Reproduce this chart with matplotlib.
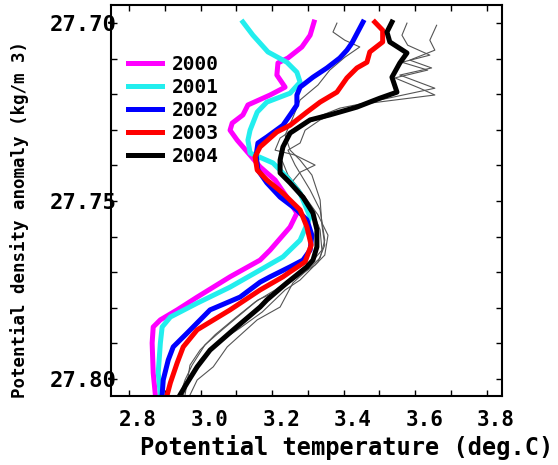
import matplotlib
matplotlib.use('Agg')
from matplotlib import pyplot as plt
import matplotlib.transforms as mtransforms

# Perfiles de temperatura potencial frente a anomalia de densidad potencial
years = ['2000', '2001', '2002', '2003', '2004']
colors = ['#ff00ff', '#22eeee', '#0000ff', '#ff0000', '#000000']

temp_2000 = [3.317, 3.306, 3.283, 3.244, 3.216, 3.213, 3.236, 3.194, 3.132, 3.118, 3.088, 3.082, 3.102, 3.138,
             3.166, 3.208, 3.241, 3.269, 3.250, 3.194, 3.166, 3.082, 2.990, 2.934, 2.887, 2.867, 2.864, 2.867, 2.873]
dens_2000 = [27.6997, 27.7034, 27.7067, 27.7098, 27.7112, 27.7146, 27.7180, 27.7202, 27.7230, 27.7258, 27.7281,
             27.7301, 27.7329, 27.7371, 27.7404, 27.7441, 27.7489, 27.7534, 27.7573, 27.7638, 27.7666, 27.7713,
             27.7770, 27.7806, 27.7834, 27.7854, 27.7899, 27.7983, 27.8045]

temp_2001 = [3.118, 3.146, 3.188, 3.241, 3.269, 3.278, 3.250, 3.185, 3.158, 3.138, 3.132, 3.138, 3.202, 3.241,
             3.278, 3.306, 3.278, 3.230, 3.166, 3.082, 2.990, 2.915, 2.892, 2.887, 2.881, 2.887]
dens_2001 = [27.6997, 27.7034, 27.7081, 27.7110, 27.7138, 27.7166, 27.7197, 27.7222, 27.7250, 27.7301, 27.7329,
             27.7365, 27.7393, 27.7433, 27.7478, 27.7545, 27.7610, 27.7657, 27.7694, 27.7742, 27.7787, 27.7826,
             27.7854, 27.7899, 27.7983, 27.8045]

temp_2002 = [3.454, 3.423, 3.409, 3.389, 3.353, 3.314, 3.278, 3.269, 3.269, 3.250, 3.230, 3.185, 3.160, 3.155,
             3.160, 3.185, 3.222, 3.269, 3.297, 3.311, 3.306, 3.286, 3.250, 3.194, 3.166, 3.110, 3.026, 2.962,
             2.923, 2.909, 2.895, 2.892]
dens_2002 = [27.6997, 27.7056, 27.7076, 27.7098, 27.7126, 27.7152, 27.7180, 27.7202, 27.7230, 27.7258, 27.7287,
             27.7320, 27.7337, 27.7371, 27.7413, 27.7449, 27.7489, 27.7525, 27.7553, 27.7596, 27.7638, 27.7666,
             27.7685, 27.7713, 27.7728, 27.7770, 27.7806, 27.7871, 27.7910, 27.7947, 27.8003, 27.8045]

temp_2003 = [3.487, 3.509, 3.509, 3.473, 3.465, 3.437, 3.409, 3.381, 3.334, 3.297, 3.250, 3.213, 3.166, 3.152,
             3.158, 3.185, 3.230, 3.278, 3.297, 3.309, 3.292, 3.250, 3.230, 3.166, 3.082, 2.990, 2.951, 2.934,
             2.915, 2.906]
dens_2003 = [27.6997, 27.7020, 27.7053, 27.7081, 27.7110, 27.7126, 27.7154, 27.7194, 27.7222, 27.7250, 27.7287,
             27.7306, 27.7348, 27.7376, 27.7413, 27.7441, 27.7478, 27.7525, 27.7573, 27.7624, 27.7671, 27.7699,
             27.7713, 27.7750, 27.7806, 27.7862, 27.7910, 27.7955, 27.8011, 27.8045]

temp_2004 = [3.535, 3.521, 3.529, 3.577, 3.557, 3.535, 3.549, 3.501, 3.437, 3.361, 3.306, 3.250, 3.230, 3.222,
             3.222, 3.250, 3.286, 3.314, 3.325, 3.325, 3.314, 3.297, 3.241, 3.185, 3.166, 3.091, 3.026, 2.990,
             2.962, 2.942]
dens_2004 = [27.6997, 27.7025, 27.7053, 27.7084, 27.7112, 27.7152, 27.7194, 27.7211, 27.7236, 27.7258, 27.7272,
             27.7309, 27.7348, 27.7385, 27.7421, 27.7449, 27.7489, 27.7534, 27.7581, 27.7629, 27.7666, 27.7685,
             27.7730, 27.7778, 27.7798, 27.7862, 27.7919, 27.7966, 27.8011, 27.8045]

# Perfiles individuales (lineas grises finas)
temp_g1 = [3.381, 3.370, 3.403, 3.445, 3.403, 3.361, 3.328, 3.278, 3.255, 3.236, 3.250, 3.278, 3.311, 3.334,
           3.339, 3.347, 3.328, 3.278, 3.236, 3.172, 3.110, 3.040, 2.998, 2.965, 2.951]
dens_g1 = [27.7000, 27.7025, 27.7048, 27.7067, 27.7096, 27.7132, 27.7174, 27.7216, 27.7272, 27.7315, 27.7357,
           27.7385, 27.7427, 27.7497, 27.7567, 27.7624, 27.7671, 27.7722, 27.7750, 27.7812, 27.7857, 27.7904,
           27.7947, 27.8003, 27.8045]

temp_g2 = [3.577, 3.563, 3.579, 3.641, 3.563, 3.635, 3.543, 3.613, 3.655, 3.473, 3.403, 3.334, 3.292, 3.278,
           3.244, 3.264, 3.306, 3.334, 3.347, 3.334, 3.292, 3.258, 3.222, 3.158, 3.074, 3.035, 2.990, 2.970]
dens_g2 = [27.7000, 27.7034, 27.7062, 27.7090, 27.7110, 27.7132, 27.7154, 27.7183, 27.7202, 27.7225, 27.7244,
           27.7272, 27.7301, 27.7337, 27.7357, 27.7399, 27.7469, 27.7525, 27.7610, 27.7660, 27.7699, 27.7730,
           27.7798, 27.7834, 27.7910, 27.7966, 27.8003, 27.8045]

temp_g3 = [3.660, 3.641, 3.655, 3.585, 3.646, 3.557, 3.655, 3.501, 3.389, 3.306, 3.264, 3.222, 3.208, 3.264,
           3.320, 3.278, 3.255, 3.292, 3.328, 3.356, 3.347, 3.320, 3.278, 3.222, 3.160, 3.110, 3.060, 3.012,
           2.976, 2.956, 2.942]
dens_g3 = [27.7006, 27.7048, 27.7076, 27.7104, 27.7126, 27.7146, 27.7183, 27.7216, 27.7239, 27.7272, 27.7295,
           27.7323, 27.7357, 27.7371, 27.7399, 27.7419, 27.7447, 27.7489, 27.7539, 27.7596, 27.7652, 27.7680,
           27.7708, 27.7750, 27.7778, 27.7820, 27.7862, 27.7904, 27.7961, 27.8003, 27.8045]

temp_g4 = [3.361, 3.278, 3.236, 3.227, 3.244, 3.278, 3.311, 3.334, 3.339, 3.311, 3.264, 3.208, 3.152, 3.096,
           3.040, 2.998, 2.970, 2.956]
dens_g4 = [27.7258, 27.7287, 27.7329, 27.7385, 27.7427, 27.7469, 27.7525, 27.7581, 27.7638, 27.7671, 27.7708,
           27.7750, 27.7784, 27.7829, 27.7876, 27.7919, 27.7961, 27.8045]

x_ticks = [2.8, 2.9, 3.0, 3.1, 3.2, 3.3, 3.4, 3.5, 3.6, 3.7, 3.8]
x_labels = ['2.8', '', '3.0', '', '3.2', '', '3.4', '', '3.6', '', '3.8']
y_ticks = [27.70, 27.71, 27.72, 27.73, 27.74, 27.75, 27.76, 27.77, 27.78, 27.79, 27.80]
y_labels = ['27.70', '', '', '', '', '27.75', '', '', '', '', '27.80']

plt.rcParams['font.family'] = 'DejaVu Sans Mono'
plt.rcParams['font.weight'] = 'bold'

fig = plt.figure(figsize=(5.58, 4.65), dpi=100)
ax = fig.add_axes([0.199, 0.1484, 0.7007, 0.8409])

for t, d in [(temp_g1, dens_g1), (temp_g2, dens_g2), (temp_g3, dens_g3), (temp_g4, dens_g4)]:
    ax.plot(t, d, color='#555555', lw=0.8)

series = [temp_2000, temp_2001, temp_2002, temp_2003, temp_2004]
depths = [dens_2000, dens_2001, dens_2002, dens_2003, dens_2004]
for t, d, c, yr in zip(series, depths, colors, years):
    ax.plot(t, d, color=c, lw=3.6, label=yr, solid_joinstyle='round')

ax.set_xlim(2.749, 3.843)
ax.set_ylim(27.8048, 27.6949)

ax.set_xticks(x_ticks)
ax.set_xticklabels(x_labels, fontsize=15, fontweight='bold')
ax.set_yticks(y_ticks)
ax.set_yticklabels(y_labels, fontsize=16, fontweight='bold')
ax.tick_params(direction='in', length=4, width=1, top=True, right=True)
ax.tick_params(axis='x', pad=10)
ax.tick_params(axis='y', pad=-4)
for spine in ax.spines.values():
    spine.set_linewidth(1.5)

# las etiquetas del eje x van algo desplazadas a la derecha
shift = mtransforms.ScaledTranslation(9 / 100, 0, fig.dpi_scale_trans)
for lbl in ax.get_xticklabels():
    lbl.set_transform(lbl.get_transform() + shift)

ax.legend(loc='upper left', bbox_to_anchor=(0.043, 0.872), frameon=False, prop={'size': 14, 'weight': 'bold'},
          handlelength=1.75, handletextpad=0.5, labelspacing=0.2, borderpad=0, borderaxespad=0)

fig.text(140 / 558, 1 - 455 / 465, 'Potential temperature (deg.C)', fontsize=17, fontweight='bold',
         ha='left', va='baseline')
fig.text(20 / 558, 1 - 219 / 465, 'Potential density anomaly (kg/m 3)', fontsize=12.5, fontweight='bold',
         rotation=90, ha='center', va='center')

plt.savefig('out.png', dpi=100)
